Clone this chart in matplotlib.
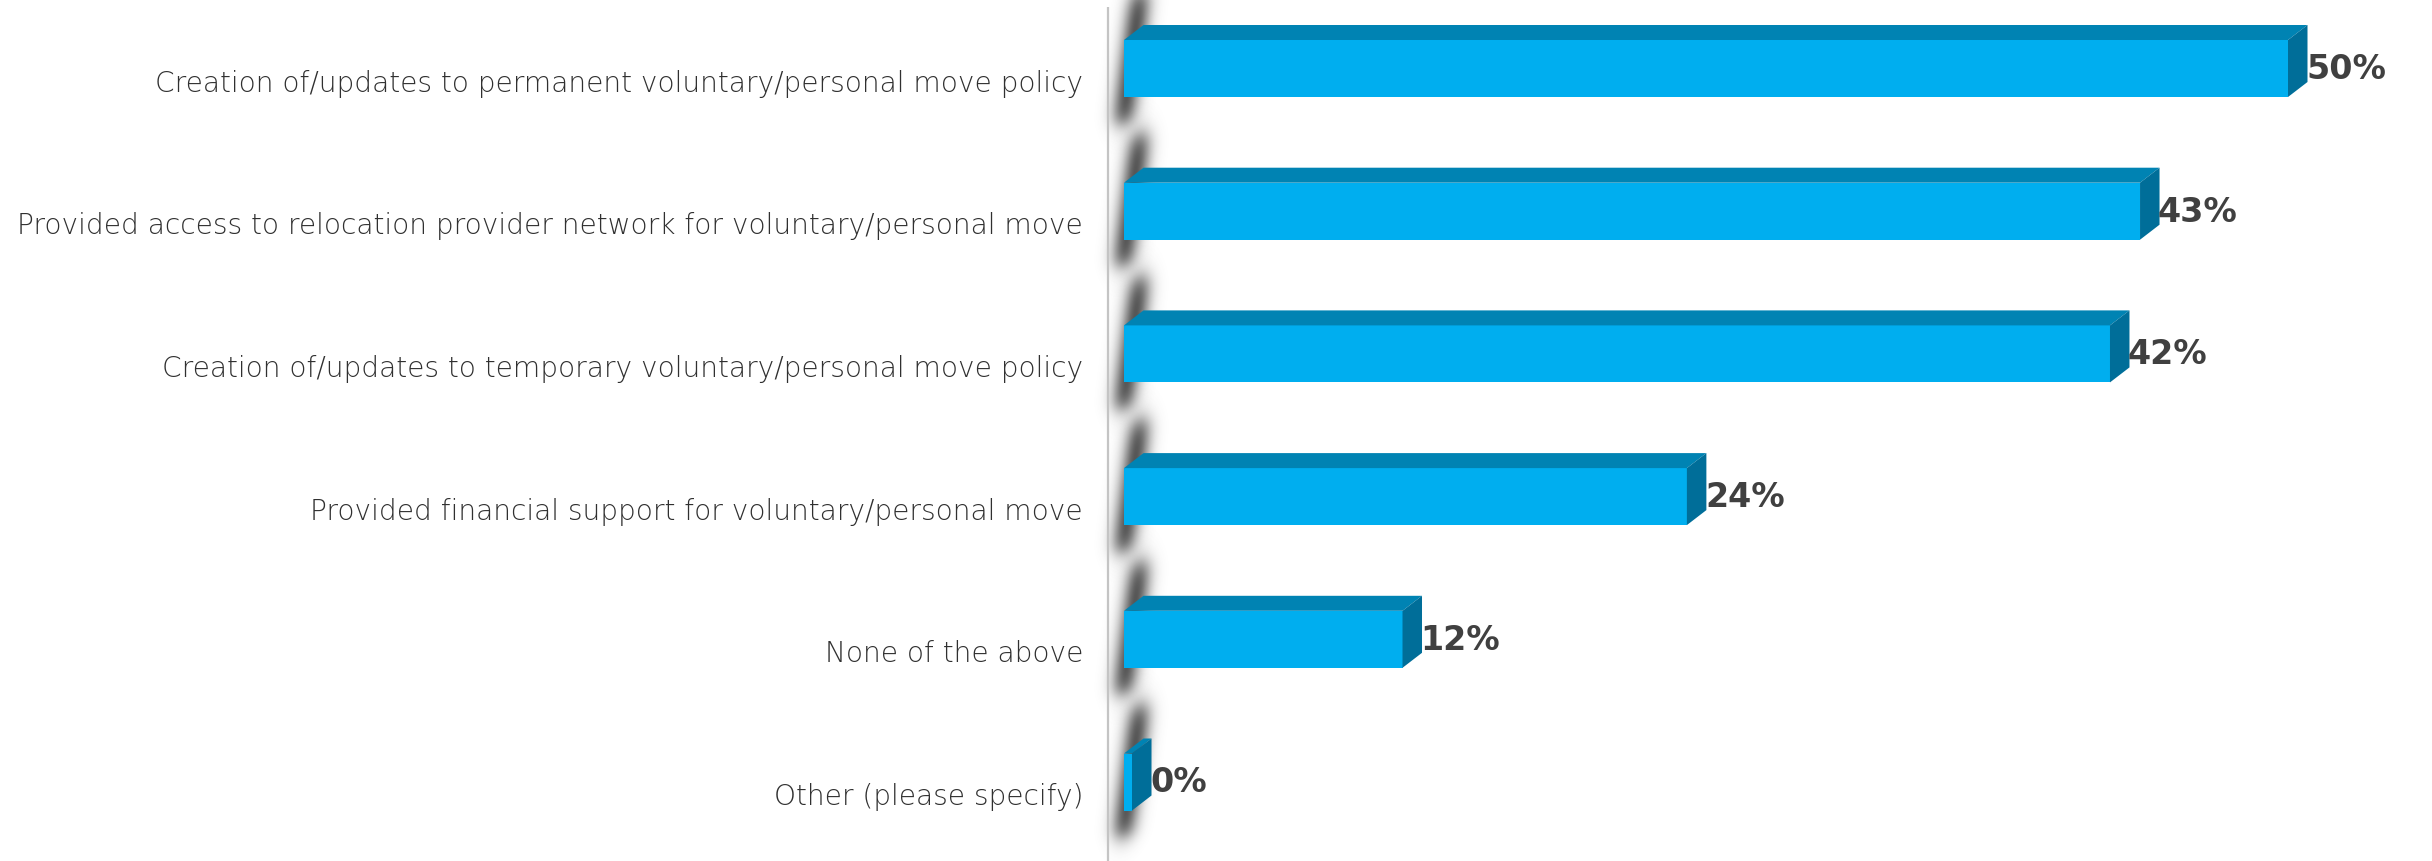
import numpy as np
import matplotlib.pyplot as plt
from matplotlib.patches import Polygon

# data
categories = [
    "Creation of/updates to permanent voluntary/personal move policy",
    "Provided access to relocation provider network for voluntary/personal move",
    "Creation of/updates to temporary voluntary/personal move policy",
    "Provided financial support for voluntary/personal move",
    "None of the above",
    "Other (please specify)",
]
values = [50.0, 43.6, 42.3, 24.0, 11.7, 0.0]
value_labels = ["50%", "43%", "42%", "24%", "12%", "0%"]

# pixel layout of the original picture
W, H = 2432, 862
PX_PER_PCT = 23.12
X0_PX = 1132          # where 0% sits
ROW0_PX, ROW_PX = 69.5, 142.7

def px_x(n):
    return n / PX_PER_PCT

def px_y(n):
    return n / ROW_PX

front_c = "#00AEEF"
top_c = "#0083B3"
side_c = "#006E99"

fig = plt.figure(figsize=(W / 100, H / 100), dpi=100)
ax = fig.add_axes([0, 0, 1, 1])
ax.set_xlim(-X0_PX / PX_PER_PCT, (W - X0_PX) / PX_PER_PCT)
ax.set_ylim((H - ROW0_PX) / ROW_PX, -ROW0_PX / ROW_PX)
ax.axis("off")

y = np.arange(len(categories))
bh = px_y(57)
dx, dy = px_x(19.5), px_y(15)
base = px_x(8)

# slanted soft shadow behind the left end of each bar (px offsets, y downwards)
sx = np.linspace(-40, 60, 120)
sy = np.linspace(-120, 100, 220)
cx = 17 - (sy + 80) / 140 * 19
gx = np.exp(-((sx[None, :] - cx[:, None]) / 13.0) ** 2)
gy = 1 / (1 + np.exp(-(sy + 76) / 7)) * 1 / (1 + np.exp((sy - 54) / 6))
img = np.zeros((len(sy), len(sx), 4))
img[..., :3] = 0.3
img[..., 3] = gx * gy[:, None] * 0.95
for yi in y:
    ax.imshow(img, extent=(-base + px_x(sx[0]), -base + px_x(sx[-1]),
                           yi + px_y(sy[-1]), yi + px_y(sy[0])),
              origin="upper", aspect="auto", zorder=1, interpolation="bilinear")

ax.barh(y, np.array(values) + base, left=-base, height=bh, color=front_c,
        edgecolor="none", zorder=3)

for yi, v in zip(y, values):
    top = yi - bh / 2
    bot = yi + bh / 2
    xl, xr = -base, v
    ax.add_patch(Polygon([(xl, top), (xr, top), (xr + dx, top - dy), (xl + dx, top - dy)],
                         closed=True, facecolor=top_c, edgecolor="none", zorder=3))
    ax.add_patch(Polygon([(xr, top), (xr + dx, top - dy), (xr + dx, bot - dy), (xr, bot)],
                         closed=True, facecolor=side_c, edgecolor="none", zorder=3))

# left axis line
ax.plot([px_x(1108 - X0_PX)] * 2, [px_y(H - ROW0_PX), px_y(8 - ROW0_PX)],
        color="#c4c4c4", lw=1.6, zorder=2, solid_capstyle="butt")

for yi, cat in zip(y, categories):
    ax.text(px_x(1083 - X0_PX), yi + px_y(22), cat, ha="right", va="baseline",
            fontsize=20.2, color="#303030", family="DejaVu Sans", fontweight="light")

for yi, v, lab in zip(y, values, value_labels):
    ax.text(v + px_x(18), yi, lab, ha="left", va="center",
            fontsize=24, fontweight="bold", color="#404040", family="DejaVu Sans", zorder=4)

fig.savefig("out.png", dpi=100)
